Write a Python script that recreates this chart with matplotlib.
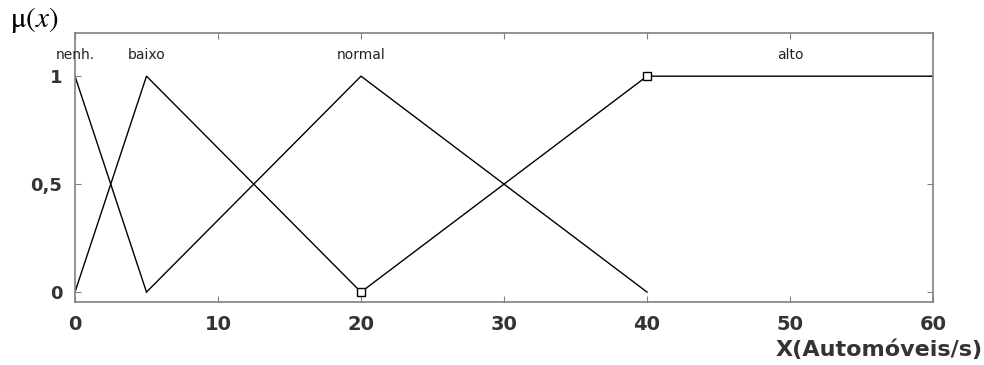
import matplotlib
matplotlib.use('Agg')
import matplotlib.pyplot as plt

plt.rcParams['mathtext.fontset'] = 'stix'

# membership functions (x points, mu points)
nenh_x = [0, 5]
nenh_y = [1, 0]
baixo_x = [0, 5, 20]
baixo_y = [0, 1, 0]
normal_x = [5, 20, 40]
normal_y = [0, 1, 0]
alto_x = [20, 40, 60]
alto_y = [0, 1, 1]

labels = ['nenh.', 'baixo', 'normal', 'alto']
label_x = [0, 5, 20, 50]

xticks = [0, 10, 20, 30, 40, 50, 60]
yticks = [0, 0.5, 1]
yticklabels = ['0', '0,5', '1']

fig = plt.figure(figsize=(9.84, 3.65), dpi=100)
ax = fig.add_axes([0.0762, 0.1726, 0.8720, 0.7370])

ax.plot(nenh_x, nenh_y, color='black', lw=1)
ax.plot(baixo_x, baixo_y, color='black', lw=1)
ax.plot(normal_x, normal_y, color='black', lw=1)
ax.plot(alto_x, alto_y, color='black', lw=1)
# squares on alto
ax.plot([alto_x[0], alto_x[1]], [alto_y[0], alto_y[1]], linestyle='none',
        marker='s', markersize=6, markerfacecolor='white', markeredgecolor='black', mew=1)

for lab, lx in zip(labels, label_x):
    ax.text(lx, 1.097, lab, ha='center', va='center', fontsize=10, color='#222222')

ax.set_xlim(0, 60)
ax.set_ylim(-0.046, 1.2)
ax.set_xticks(xticks)
ax.set_xticklabels([str(t) for t in xticks], fontweight='bold', fontsize=14, color='#333333')
ax.set_yticks(yticks)
ax.set_yticklabels(yticklabels, fontweight='bold', fontsize=13, color='#333333')
ax.tick_params(direction='in', length=4, color='#808080', top=True, right=True)
ax.tick_params(axis='x', pad=9)
ax.tick_params(axis='y', pad=9)
for sp in ax.spines.values():
    sp.set_color('#808080')
    sp.set_linewidth(1.2)

fig.text(0.010, 0.945, r'$\mathrm{\mu}(x)$', fontsize=21, ha='left', va='center')
fig.text(0.999, 0.041, 'X(Automóveis/s)', fontsize=16, fontweight='bold',
         ha='right', va='center', color='#333333')

fig.savefig('out.png', dpi=100)
